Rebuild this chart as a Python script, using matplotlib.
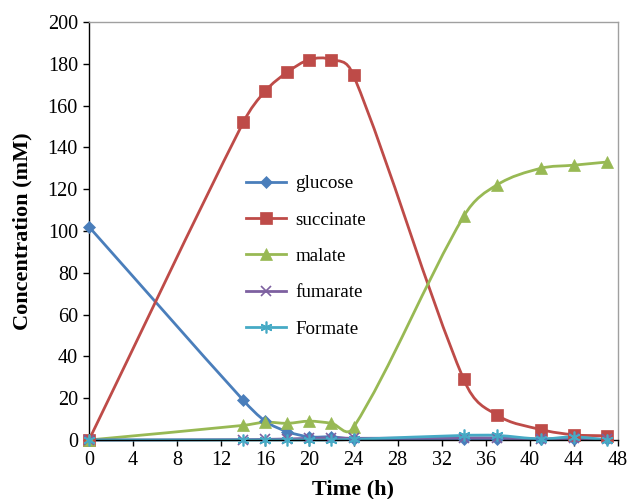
import matplotlib
matplotlib.use("Agg")
import matplotlib.pyplot as plt
from matplotlib.path import Path
from matplotlib.patches import PathPatch
from matplotlib.lines import Line2D
import numpy as np

plt.rcParams['font.family'] = ['Liberation Serif', 'DejaVu Serif']

time_h = [0, 14, 16, 18, 20, 22, 24, 34, 37, 41, 44, 47]
glucose = [102, 19, 9, 4, 1.5, 1.5, 0.5, 0.3, 0.3, 0.3, 0.3, 0.3]
succinate = [0, 152, 167, 176, 182, 182, 174.5, 29, 12, 5, 2.5, 2]
malate = [0, 7, 8.5, 8, 9, 8, 6, 107, 122, 130, 131.5, 133]
fumarate = [0, 0.2, 0.3, 0.5, 0.8, 1.0, 0.8, 1.0, 1.0, 0.5, 0.8, 0.3]
formate = [0, 0, 0, 0, 0, 0, 0.3, 2.2, 2.2, 0.5, 1.5, 0]

series_names = ['glucose', 'succinate', 'malate', 'fumarate', 'Formate']
x_ticks = list(range(0, 49, 4))
y_ticks = list(range(0, 201, 20))

colors = ['#4A7EBB', '#BE4B48', '#98B954', '#7D60A0', '#46AAC5']
markers = ['D', 's', '^', 'x', (6, 2, 0)]
msizes = [6.5, 8, 8.5, 7.5, 8.5]


def smooth_path(x, y):
    # cubic Hermite in x with finite-difference (Catmull-Rom style) slopes
    x = np.asarray(x, float)
    y = np.asarray(y, float)
    n = len(x)
    m = np.zeros(n)
    for i in range(n):
        if i == 0:
            m[i] = (y[1] - y[0]) / (x[1] - x[0])
        elif i == n - 1:
            m[i] = (y[-1] - y[-2]) / (x[-1] - x[-2])
        else:
            m[i] = (y[i + 1] - y[i - 1]) / (x[i + 1] - x[i - 1])
    verts = [(x[0], y[0])]
    codes = [Path.MOVETO]
    for i in range(n - 1):
        h = x[i + 1] - x[i]
        c1 = (x[i] + h / 3, y[i] + m[i] * h / 3)
        c2 = (x[i + 1] - h / 3, y[i + 1] - m[i + 1] * h / 3)
        verts += [c1, c2, (x[i + 1], y[i + 1])]
        codes += [Path.CURVE4] * 3
    return Path(verts, codes)


fig = plt.figure(figsize=(6.3, 4.99), dpi=100)
ax = fig.add_axes([89 / 630, 59 / 499, (618 - 89) / 630, (440 - 22) / 499])

data = [glucose, succinate, malate, fumarate, formate]
handles = []
for name, vals, c, m, ms in zip(series_names, data, colors, markers, msizes):
    patch = PathPatch(smooth_path(time_h, vals), facecolor='none', edgecolor=c,
                      lw=2.0, clip_on=False, zorder=2)
    ax.add_patch(patch)
    mew = 1.2 if m in ('x', (6, 2, 0)) else 0.5
    ax.plot(time_h, vals, linestyle='none', marker=m, markersize=ms, color=c,
            markeredgecolor=c, markeredgewidth=mew, clip_on=False, zorder=3)
    handles.append(Line2D([], [], color=c, lw=2.0, marker=m, markersize=ms,
                          markeredgecolor=c, markeredgewidth=mew))

ax.set_xlim(0, 48)
ax.set_ylim(0, 200)
ax.set_xticks(x_ticks)
ax.set_yticks(y_ticks)
ax.tick_params(axis='both', direction='out', length=4, width=1, labelsize=14.5,
               colors='black')
ax.tick_params(axis='x', pad=4)
ax.tick_params(axis='y', pad=4)
for s in ['top', 'right']:
    ax.spines[s].set_color('#A0A0A0')
    ax.spines[s].set_linewidth(1.0)
for s in ['left', 'bottom']:
    ax.spines[s].set_color('black')
    ax.spines[s].set_linewidth(1.0)

ax.set_xlabel('Time (h)', fontsize=16, fontweight='bold', labelpad=7)
ax.set_ylabel('Concentration (mM)', fontsize=16, fontweight='bold', labelpad=11)

ax.legend(handles, series_names, frameon=False, fontsize=13.7,
          loc='upper left', bbox_to_anchor=(246 / 630, 1 - 175 / 499),
          bbox_transform=fig.transFigure, labelspacing=1.0, handlelength=2.1,
          handletextpad=0.5, borderaxespad=0, borderpad=0)

fig.savefig('out.png', dpi=100)
